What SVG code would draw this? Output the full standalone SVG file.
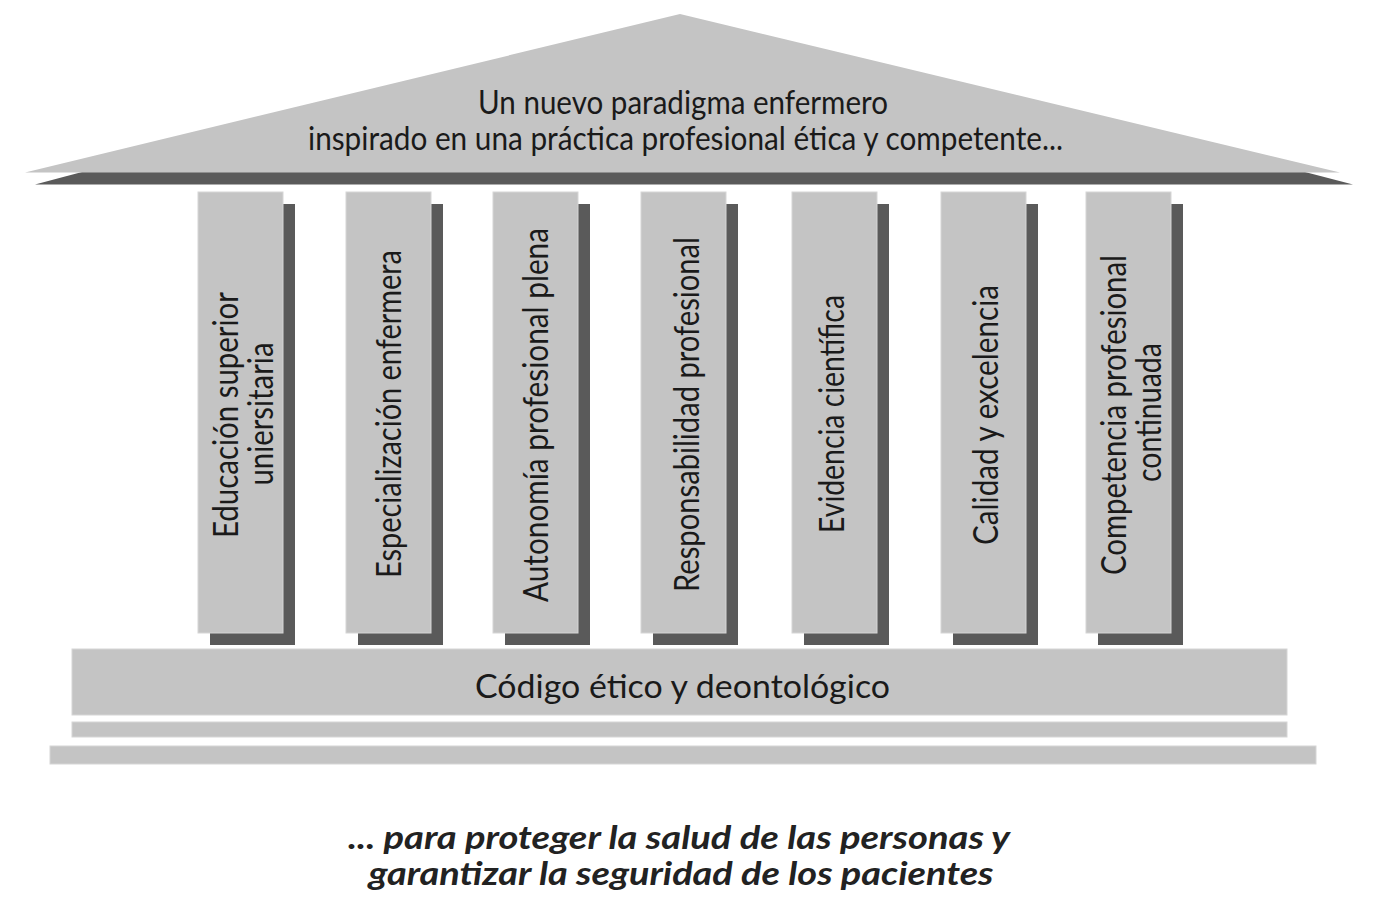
<svg xmlns="http://www.w3.org/2000/svg" width="1387" height="916" viewBox="0 0 1387 916">
  <style>
    .light { fill: #c4c4c4; }
    .dark { fill: #5a5a5a; }
    .face { fill: #c4c4c4; stroke: #d6d6d6; stroke-width: 1; }
    .lbl { font-family: Lato, "Open Sans", "Liberation Sans", sans-serif; fill: #1a1a1a; font-size: 32px; text-anchor: middle; }
    .plbl { font-family: Lato, "Open Sans", "Liberation Sans", sans-serif; fill: #1a1a1a; font-size: 35px; text-anchor: middle; }
    .cap { font-family: Lato, "Open Sans", "Liberation Sans", sans-serif; fill: #222222; font-size: 32px; font-weight: bold; font-style: italic; text-anchor: middle; }
  </style>
  <rect width="1387" height="916" fill="#ffffff"/>

  <g id="roof">
    <polygon class="dark" points="82,172 1305,172 1353,184.5 35,184.5"/>
    <polygon class="light" points="25,172.5 680,14 1340,172.5"/>
    <text class="lbl" x="683" y="114" textLength="410" lengthAdjust="spacingAndGlyphs">Un nuevo paradigma enfermero</text>
    <text class="lbl" x="685.5" y="150" textLength="755" lengthAdjust="spacingAndGlyphs">inspirado en una práctica profesional ética y competente...</text>
  </g>

  <g id="pillar-1">
    <rect class="dark" x="210" y="204" width="85" height="441"/>
    <rect class="face" x="198" y="192" width="85" height="441"/>
    <text class="plbl" transform="translate(238,415) rotate(-90)" textLength="246" lengthAdjust="spacingAndGlyphs">Educación superior</text>
    <text class="plbl" transform="translate(273,414) rotate(-90)" textLength="143" lengthAdjust="spacingAndGlyphs">uniersitaria</text>
  </g>

  <g id="pillar-2">
    <rect class="dark" x="358" y="204" width="85" height="441"/>
    <rect class="face" x="346" y="192" width="85" height="441"/>
    <text class="plbl" transform="translate(401,414) rotate(-90)" textLength="328" lengthAdjust="spacingAndGlyphs">Especialización enfermera</text>
  </g>

  <g id="pillar-3">
    <rect class="dark" x="505" y="204" width="85" height="441"/>
    <rect class="face" x="493" y="192" width="85" height="441"/>
    <text class="plbl" transform="translate(548,415) rotate(-90)" textLength="374" lengthAdjust="spacingAndGlyphs">Autonomía profesional plena</text>
  </g>

  <g id="pillar-4">
    <rect class="dark" x="653" y="204" width="85" height="441"/>
    <rect class="face" x="641" y="192" width="85" height="441"/>
    <text class="plbl" transform="translate(699,414.5) rotate(-90)" textLength="355" lengthAdjust="spacingAndGlyphs">Responsabilidad profesional</text>
  </g>

  <g id="pillar-5">
    <rect class="dark" x="804" y="204" width="85" height="441"/>
    <rect class="face" x="792" y="192" width="85" height="441"/>
    <text class="plbl" transform="translate(844,414) rotate(-90)" textLength="238" lengthAdjust="spacingAndGlyphs">Evidencia científica</text>
  </g>

  <g id="pillar-6">
    <rect class="dark" x="953" y="204" width="85" height="441"/>
    <rect class="face" x="941" y="192" width="85" height="441"/>
    <text class="plbl" transform="translate(998,415) rotate(-90)" textLength="260" lengthAdjust="spacingAndGlyphs">Calidad y excelencia</text>
  </g>

  <g id="pillar-7">
    <rect class="dark" x="1098" y="204" width="85" height="441"/>
    <rect class="face" x="1086" y="192" width="85" height="441"/>
    <text class="plbl" transform="translate(1126,415) rotate(-90)" textLength="320" lengthAdjust="spacingAndGlyphs">Competencia profesional</text>
    <text class="plbl" transform="translate(1161,412.5) rotate(-90)" textLength="139" lengthAdjust="spacingAndGlyphs">continuada</text>
  </g>

  <g id="base-code">
    <rect class="face" x="72" y="649" width="1215" height="66"/>
    <text class="lbl" x="682.5" y="698" textLength="415" lengthAdjust="spacingAndGlyphs">Código ético y deontológico</text>
  </g>

  <g id="base-step-1">
    <rect class="face" x="72" y="722" width="1215" height="15"/>
  </g>

  <g id="base-step-2">
    <rect class="face" x="50" y="746" width="1266" height="18"/>
  </g>

  <g id="connectors"></g>

  <g id="caption">
    <text class="cap" x="679" y="849" textLength="662" lengthAdjust="spacingAndGlyphs">... para proteger la salud de las personas y</text>
    <text class="cap" x="681" y="885" textLength="625" lengthAdjust="spacingAndGlyphs">garantizar la seguridad de los pacientes</text>
  </g>
</svg>
